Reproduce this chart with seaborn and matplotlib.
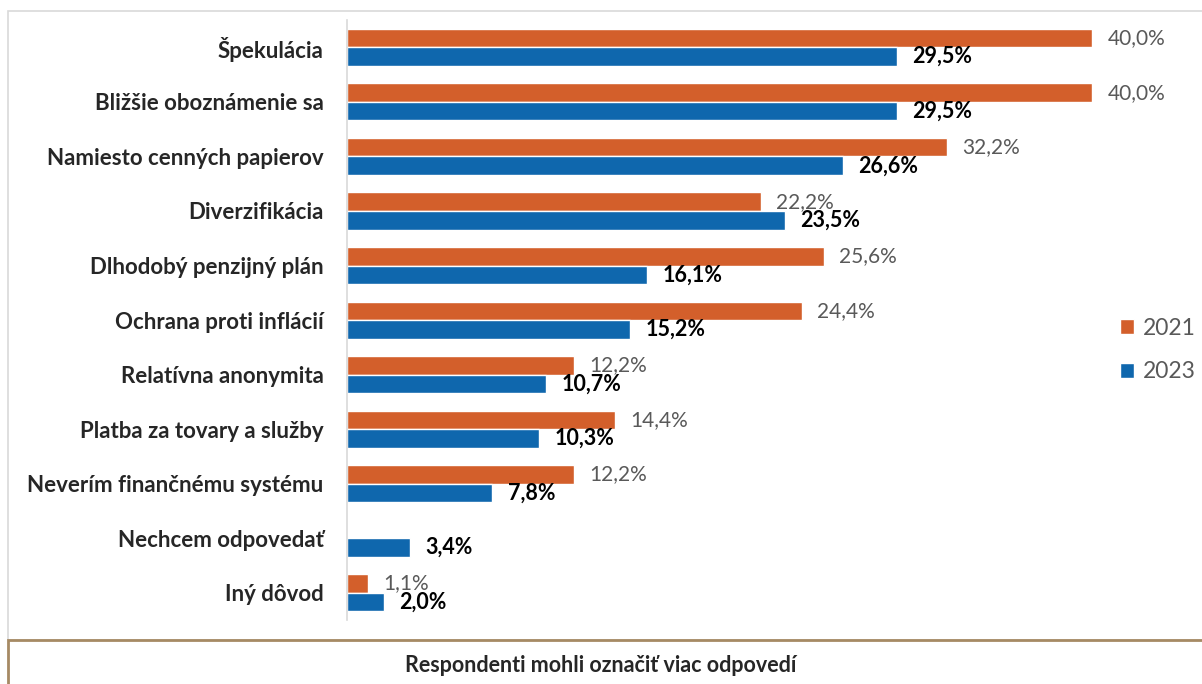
import numpy as np
import pandas as pd
import matplotlib.pyplot as plt
import seaborn as sns
from matplotlib.patches import Rectangle

# values (share of respondents, %)
categories = ['Špekulácia', 'Bližšie oboznámenie sa', 'Namiesto cenných papierov',
              'Diverzifikácia', 'Dlhodobý penzijný plán', 'Ochrana proti inflácií',
              'Relatívna anonymita', 'Platba za tovary a služby',
              'Neverím finančnému systému', 'Nechcem odpovedať', 'Iný dôvod']
values_2021 = [40.0, 40.0, 32.2, 22.2, 25.6, 24.4, 12.2, 14.4, 12.2, np.nan, 1.1]
values_2023 = [29.5, 29.5, 26.6, 23.5, 16.1, 15.2, 10.7, 10.3, 7.8, 3.4, 2.0]
years = ['2021', '2023']
colors = ['#D35F2B', '#0F67AD']
footnote = 'Respondenti mohli označiť viac odpovedí'

df = pd.DataFrame({
    'kategoria': categories * 2,
    'rok': ['2021'] * len(categories) + ['2023'] * len(categories),
    'hodnota': values_2021 + values_2023,
})

sns.set_style('white')
plt.rcParams['font.family'] = ['Lato', 'DejaVu Sans']

fig = plt.figure(figsize=(12.02, 6.84), dpi=100)
ax = fig.add_axes([0.2887, 0.0936, 0.62, 0.877])

sns.barplot(data=df, y='kategoria', x='hodnota', hue='rok', order=categories,
            hue_order=years, palette=colors, width=0.68, orient='h',
            saturation=1, ax=ax, legend=True)

fmt = lambda v: f'{v:.1f}'.replace('.', ',') + '%'
ax.bar_label(ax.containers[0], fmt=fmt, padding=11, fontsize=15, color='#595959')
ax.bar_label(ax.containers[1], fmt=fmt, padding=11, fontsize=15.5, color='black',
             fontweight='bold')

ax.set_xlim(0, 40)
ax.set_xlabel('')
ax.set_ylabel('')
ax.set_xticks([])
ax.tick_params(axis='y', length=0, pad=17)
for lbl in ax.get_yticklabels():
    lbl.set_fontweight('bold')
    lbl.set_fontsize(16)
for s in ['top', 'right', 'bottom']:
    ax.spines[s].set_visible(False)
ax.spines['left'].set_color('#D9D9D9')
ax.spines['left'].set_linewidth(1.2)

leg = ax.legend(loc='center left', bbox_to_anchor=(1.01, 0.45), frameon=False,
                fontsize=16.5, handlelength=0.6, handleheight=0.6,
                labelspacing=1.0, handletextpad=0.4)
for t in leg.get_texts():
    t.set_color('#595959')

# outer chart frame and footnote box
fig.patches.append(Rectangle((8 / 1202, 44 / 684), 1.0, 629 / 684, transform=fig.transFigure,
                             fill=False, edgecolor='#D9D9D9', linewidth=1.2))
fig.patches.append(Rectangle((8 / 1202, -0.01), 1.0, 44 / 684 + 0.01, transform=fig.transFigure,
                             facecolor='white', edgecolor='#A68A64', linewidth=2))
fig.text(0.5, 19 / 684, footnote, ha='center', va='center', fontsize=15.5, fontweight='bold')

fig.savefig('out.png', dpi=100)
